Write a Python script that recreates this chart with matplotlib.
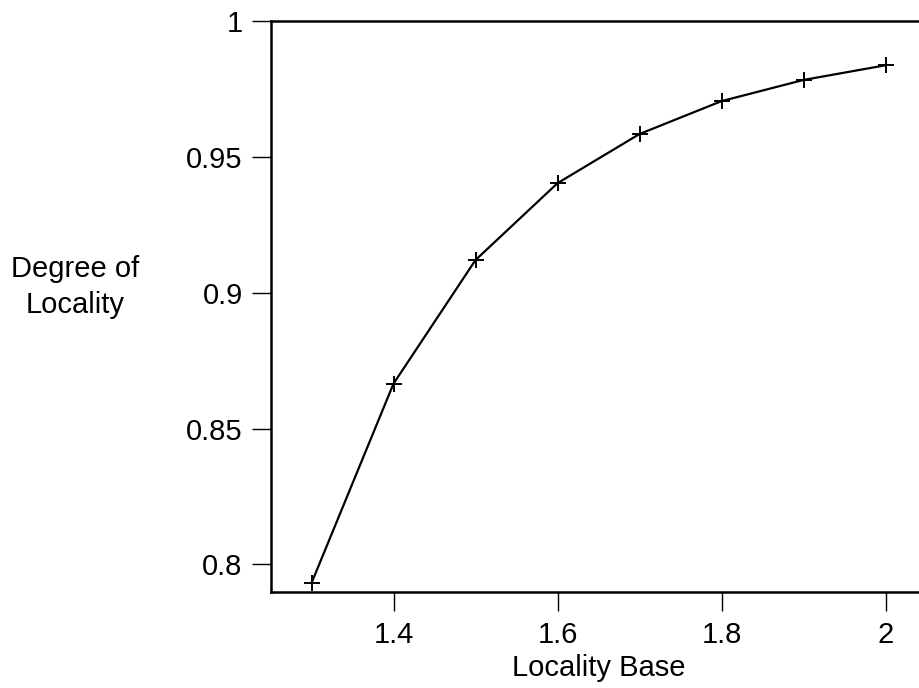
import matplotlib.pyplot as plt

plt.rcParams['font.family'] = ['Liberation Sans', 'DejaVu Sans']

# data
locality_base = [1.3, 1.4, 1.5, 1.6, 1.7, 1.8, 1.9, 2.0]
degree = [0.7931, 0.8665, 0.912, 0.9403, 0.9584, 0.9705, 0.9783, 0.9837]
xticks = [1.4, 1.6, 1.8, 2.0]
xtick_labels = ['1.4', '1.6', '1.8', '2']
yticks = [0.8, 0.85, 0.9, 0.95, 1.0]
ytick_labels = ['0.8', '0.85', '0.9', '0.95', '1']

W, H = 919, 688
fig = plt.figure(figsize=(W / 100, H / 100), dpi=100)
# right end of the axes sits outside the image, as in the reference
left, right, top, bottom = 270.5, 926.5, 21, 591.5
ax = fig.add_axes([left / W, 1 - bottom / H, (right - left) / W, (bottom - top) / H])

ax.plot(locality_base, degree, color='black', lw=1.6, marker='+',
        markersize=11, markeredgewidth=1.4)

ax.set_xlim(1.25, 2.05)
ax.set_ylim(0.79, 1.0)
ax.set_xticks(xticks)
ax.set_xticklabels(xtick_labels)
ax.set_yticks(yticks)
ax.set_yticklabels(ytick_labels)

for s in ax.spines.values():
    s.set_linewidth(1.8)
ax.spines['right'].set_visible(False)
ax.tick_params(direction='out', length=14, width=1.0, labelsize=21, colors='black')
ax.tick_params(axis='x', pad=7)
ax.tick_params(axis='y', pad=6)

ax.set_xlabel('Locality Base', fontsize=21)
ax.xaxis.set_label_coords((599 - left) / (right - left), -(668 - bottom) / (bottom - top),
                          transform=ax.transAxes)
ax.xaxis.label.set_va('center')

fig.text(75 / W, 1 - 287 / H, 'Degree of\nLocality', fontsize=21, ha='center',
         va='center', linespacing=1.35)

fig.savefig('out.png', dpi=100)
